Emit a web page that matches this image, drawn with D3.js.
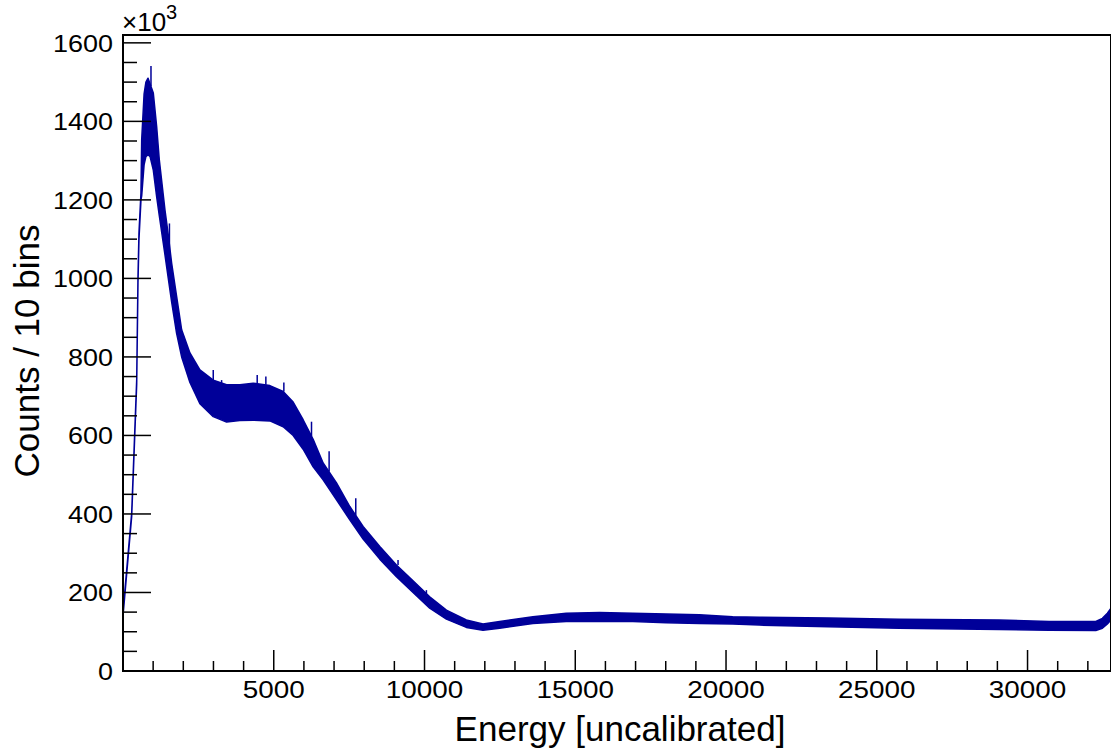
<!DOCTYPE html>
<html>
<head>
<meta charset="utf-8">
<script src="https://cdn.jsdelivr.net/npm/d3@7"></script>
<style>
  body { margin: 0; background: #fff; }
  svg { display: block; font-family: "Liberation Sans", Arial, sans-serif; }
</style>
</head>
<body>
<svg id="chart" width="1111" height="750"></svg>
<script>
// data (counts in units of 10^3)
var xTicks = [5000, 10000, 15000, 20000, 25000, 30000];
var yTicks = [0, 200, 400, 600, 800, 1000, 1200, 1400, 1600];

// histogram band: bins alternate, so it is drawn as upper / lower envelope
var bandX = [0, 288, 454, 497, 530, 596, 620, 700, 760, 830, 900, 1005, 1116, 1204, 1336, 1392,
  1502, 1613, 1778, 1945, 2220, 2551, 2993, 3436, 3877, 4318, 4871, 5312, 5643, 5974, 6306, 6637,
  7081, 7522, 7963, 8516, 9069, 9619, 10172, 10726, 11388, 11939, 12492, 13595, 14700, 15805,
  16909, 18015, 19119, 20222, 21107, 23400, 25745, 29059, 30716, 32264, 32482, 32648, 32768];
var bandUpper = [150, 402, 741, 1004, 1116, 1218, 1353, 1470, 1500, 1510, 1495, 1472, 1387, 1302, 1212, 1174,
  1110, 1039, 954, 869, 810, 767, 741, 729, 729, 733, 727, 712, 685, 640, 590, 530,
  479, 419, 368, 317, 270, 230, 189, 155, 130, 120, 126, 138, 147, 149,
  147, 145, 143, 138, 137, 135, 132, 130, 126, 126, 134, 147, 160];
var bandLower = [140, 394, 730, 990, 1100, 1200, 1210, 1290, 1310, 1315, 1310, 1276, 1208, 1160, 1090, 1060,
  1000, 940, 860, 800, 735, 681, 648, 634, 638, 639, 637, 622, 600, 565, 520, 487,
  436, 385, 336, 285, 240, 200, 160, 132, 111, 104, 109, 121, 126, 127,
  126, 123, 121, 120, 117, 113, 109, 106, 104, 103, 109, 120, 130];

// single bins sticking out of the band
var spikeX    = [928, 1540, 2993, 3270, 4451, 4738, 5335, 6252, 6836, 7720, 9122, 10063];
var spikeBase = [1490, 1060, 741, 729, 733, 729, 712, 598, 508, 396, 270, 197];
var spikeTop  = [1541, 1140, 767, 741, 754, 750, 735, 635, 560, 440, 283, 206];

(function() {
  var svg = d3.select("#chart");
  var padL = 123, padR = 1111, padT = 35, padB = 671;
  var x = d3.scaleLinear().domain([0, 32768]).range([padL, padR]);
  var y = d3.scaleLinear().domain([0, 1620]).range([padB, padT]);
  var blue = "#000099";

  // histogram band
  var area = d3.area()
    .x(function(d, i) { return x(bandX[i]); })
    .y0(function(d, i) { return y(bandLower[i]); })
    .y1(function(d, i) { return y(bandUpper[i]); });

  svg.append("path")
    .datum(bandX)
    .attr("d", area)
    .attr("fill", blue)
    .attr("stroke", blue)
    .attr("stroke-width", 1.5)
    .attr("stroke-linejoin", "round");

  svg.append("g").selectAll("line")
    .data(spikeX)
    .enter()
    .append("line")
    .attr("x1", function(d) { return x(d); })
    .attr("x2", function(d) { return x(d); })
    .attr("y1", function(d, i) { return y(spikeBase[i]); })
    .attr("y2", function(d, i) { return y(spikeTop[i]); })
    .attr("stroke", blue)
    .attr("stroke-width", 1.5);

  // frame
  svg.append("rect")
    .attr("x", padL)
    .attr("y", padT)
    .attr("width", padR - padL)
    .attr("height", padB - padT)
    .attr("fill", "none")
    .attr("stroke", "#000")
    .attr("stroke-width", 2);

  // x axis ticks
  var xMinor = d3.range(1000, 32768, 1000);
  svg.append("g").selectAll("line")
    .data(xMinor)
    .enter()
    .append("line")
    .attr("x1", function(d) { return x(d); })
    .attr("x2", function(d) { return x(d); })
    .attr("y1", padB)
    .attr("y2", function(d) { return d % 5000 === 0 ? padB - 21 : padB - 10; })
    .attr("stroke", "#000")
    .attr("stroke-width", 1.5);

  svg.append("g").selectAll("text")
    .data(xTicks)
    .enter()
    .append("text")
    .attr("x", function(d) { return x(d); })
    .attr("y", 698)
    .attr("text-anchor", "middle")
    .attr("textLength", function(d) { return String(d).length * 15.5; })
    .attr("lengthAdjust", "spacingAndGlyphs")
    .style("font-size", "24px")
    .text(function(d) { return d; });

  // y axis ticks
  var yMinor = d3.range(50, 1620, 50);
  svg.append("g").selectAll("line")
    .data(yMinor)
    .enter()
    .append("line")
    .attr("x1", padL)
    .attr("x2", function(d) { return d % 200 === 0 ? padL + 28 : padL + 14; })
    .attr("y1", function(d) { return y(d); })
    .attr("y2", function(d) { return y(d); })
    .attr("stroke", "#000")
    .attr("stroke-width", 1.5);

  svg.append("g").selectAll("text")
    .data(yTicks)
    .enter()
    .append("text")
    .attr("x", 113)
    .attr("y", function(d) { return y(d) + 9; })
    .attr("text-anchor", "end")
    .attr("textLength", function(d) { return String(d).length * 15; })
    .attr("lengthAdjust", "spacingAndGlyphs")
    .style("font-size", "24px")
    .text(function(d) { return d; });

  // exponent
  var expo = svg.append("text")
    .attr("x", 122)
    .attr("y", 31)
    .style("font-size", "26px");
  expo.append("tspan").text("\u00d710");
  expo.append("tspan").attr("dy", -12).style("font-size", "20px").text("3");

  // axis titles
  svg.append("text")
    .attr("x", 620)
    .attr("y", 741)
    .attr("text-anchor", "middle")
    .style("font-size", "35px")
    .text("Energy [uncalibrated]");

  svg.append("text")
    .attr("transform", "translate(39,351) rotate(-90)")
    .attr("text-anchor", "middle")
    .style("font-size", "35px")
    .text("Counts / 10 bins");
})();
</script>
</body>
</html>
